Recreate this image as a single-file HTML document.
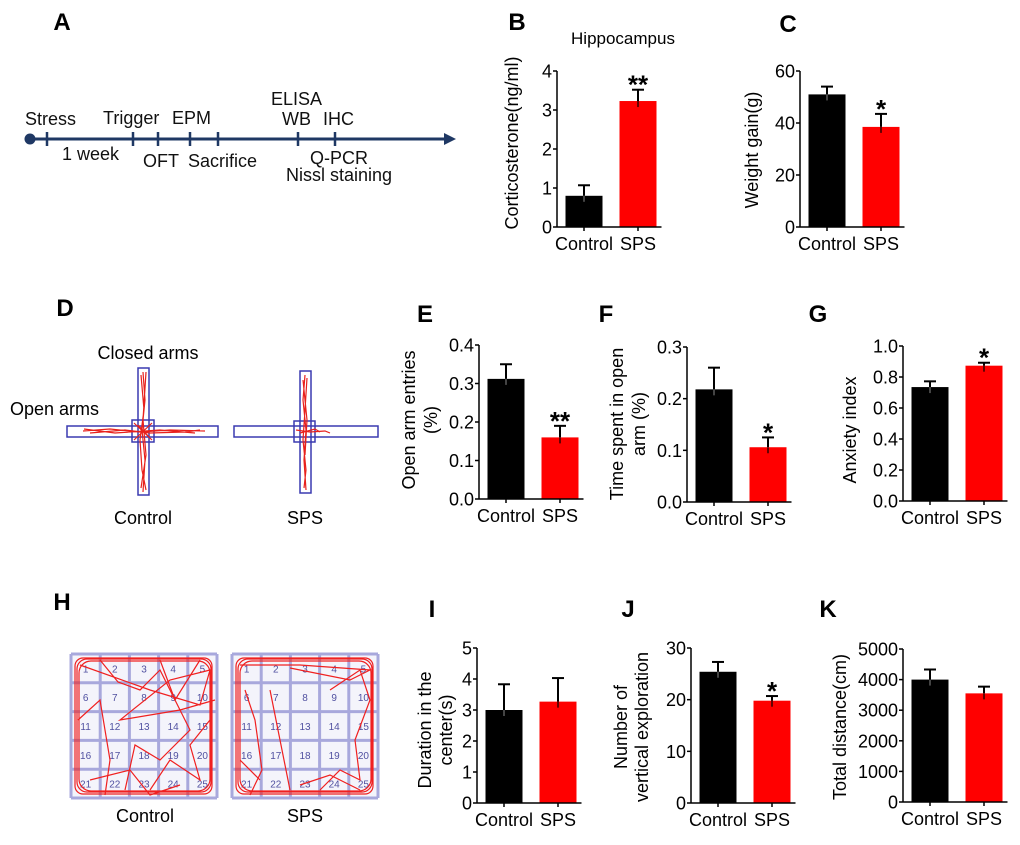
<!DOCTYPE html>
<html><head><meta charset="utf-8">
<style>
html,body{margin:0;padding:0;background:#fff;}
svg{display:block;font-family:"Liberation Sans",Arial,sans-serif;}
</style></head>
<body>
<svg id="fig" width="1020" height="845" viewBox="0 0 1020 845" xmlns="http://www.w3.org/2000/svg">
<!-- Panel letters -->
<g font-weight="bold" font-size="24" text-anchor="middle">
<text x="62" y="30">A</text>
<text x="517" y="30">B</text>
<text x="788" y="32">C</text>
<text x="65" y="316">D</text>
<text x="425" y="322">E</text>
<text x="606" y="322">F</text>
<text x="818" y="322">G</text>
<text x="62" y="610">H</text>
<text x="432" y="617">I</text>
<text x="628" y="617">J</text>
<text x="828" y="617">K</text>
</g>

<!-- Panel A timeline -->
<g fill="#111" font-size="18">
<line x1="30" y1="139" x2="446" y2="139" stroke="#1f3864" stroke-width="3"/>
<polygon points="444,133 456,139 444,145" fill="#1f3864"/>
<circle cx="30" cy="139" r="5.5" fill="#1f3864"/>
<g stroke="#1f3864" stroke-width="2.5">
<line x1="47" y1="132" x2="47" y2="146"/><line x1="133" y1="132" x2="133" y2="146"/>
<line x1="158" y1="132" x2="158" y2="146"/><line x1="190" y1="132" x2="190" y2="146"/>
<line x1="218" y1="132" x2="218" y2="146"/><line x1="298" y1="132" x2="298" y2="146"/>
<line x1="335" y1="132" x2="335" y2="146"/>
</g>
<text x="25" y="125">Stress</text>
<text x="103" y="124">Trigger</text>
<text x="172" y="124">EPM</text>
<text x="271" y="105">ELISA</text>
<text x="282" y="125">WB</text>
<text x="323" y="125">IHC</text>
<text x="62" y="160">1 week</text>
<text x="143" y="167">OFT</text>
<text x="188" y="167">Sacrifice</text>
<text x="310" y="164">Q-PCR</text>
<text x="286" y="181">Nissl staining</text>
</g>

<text x="623" y="44" font-size="17" text-anchor="middle">Hippocampus</text>

<!-- Panel D: EPM -->
<g>
<text x="148" y="359" font-size="18" text-anchor="middle">Closed arms</text>
<text x="10" y="415" font-size="18">Open arms</text>
<g fill="none" stroke="#3a3ab0" stroke-width="1.5">
<rect x="138" y="368" width="11" height="127"/><rect x="67" y="426" width="151" height="11"/><rect x="132" y="420" width="22" height="22"/>
</g>
<g fill="none" stroke="#e8201c" stroke-width="1.2">
<path d="M143,372 L145,400 L142,430 L145,460 L143,492 M141,375 L144,410 L140,440 L142,470 L146,490 M146,372 L143,420 L146,455 L141,488"/>
<path d="M83,431 L110,429 L140,432 L170,430 L205,431 M90,433 L125,430 L150,433 L185,432 L200,430 M84,429 L115,433 L160,430 L195,433"/>
<path d="M134,423 L152,440 M134,440 L152,423 M138,425 L150,438"/>
</g>
<g fill="none" stroke="#3a3ab0" stroke-width="1.5">
<rect x="300" y="371" width="11" height="122"/><rect x="234" y="426" width="144" height="11"/><rect x="294" y="421" width="21" height="21"/>
</g>
<g fill="none" stroke="#e8201c" stroke-width="1.2">
<path d="M305,375 L303,400 L306,430 L304,460 L306,490 M307,378 L305,410 L303,440 L306,470 L304,488 M303,380 L307,420 L305,455"/>
<path d="M296,430 L310,432 L325,431 L330,433 M300,433 L315,429 L320,432"/>
</g>
<text x="143" y="524" font-size="18" text-anchor="middle">Control</text>
<text x="305" y="524" font-size="18" text-anchor="middle">SPS</text>
</g>

<!-- Panel H: open field -->
<g id="of">
<text x="145" y="822" font-size="18" text-anchor="middle">Control</text>
<text x="305" y="822" font-size="18" text-anchor="middle">SPS</text>
</g>

<g id="charts"></g>

<script>
// ---------- Panel B: corticosterone ----------
const bCategories = ['Control', 'SPS'];
const bMeans = [0.8, 3.23];
const bErrTop = [1.07, 3.52];
const bTicks = [0, 1, 2, 3, 4];
const bTickLabels = ['0', '1', '2', '3', '4'];
const bStars = ['', '**'];
// ---------- Panel C: weight gain ----------
const cCategories = ['Control', 'SPS'];
const cMeans = [51, 38.5];
const cErrTop = [54, 43.5];
const cTicks = [0, 20, 40, 60];
const cTickLabels = ['0', '20', '40', '60'];
const cStars = ['', '*'];
// ---------- Panel E ----------
const eCategories = ['Control', 'SPS'];
const eMeans = [0.312, 0.16];
const eErrTop = [0.35, 0.19];
const eTicks = [0, 0.1, 0.2, 0.3, 0.4];
const eTickLabels = ['0.0', '0.1', '0.2', '0.3', '0.4'];
const eStars = ['', '**'];
// ---------- Panel F ----------
const fCategories = ['Control', 'SPS'];
const fMeans = [0.218, 0.106];
const fErrTop = [0.26, 0.125];
const fTicks = [0, 0.1, 0.2, 0.3];
const fTickLabels = ['0.0', '0.1', '0.2', '0.3'];
const fStars = ['', '*'];
// ---------- Panel G ----------
const gCategories = ['Control', 'SPS'];
const gMeans = [0.735, 0.873];
const gErrTop = [0.772, 0.892];
const gTicks = [0, 0.2, 0.4, 0.6, 0.8, 1.0];
const gTickLabels = ['0.0', '0.2', '0.4', '0.6', '0.8', '1.0'];
const gStars = ['', '*'];
// ---------- Panel I ----------
const iCategories = ['Control', 'SPS'];
const iMeans = [3.0, 3.27];
const iErrTop = [3.83, 4.03];
const iTicks = [0, 1, 2, 3, 4, 5];
const iTickLabels = ['0', '1', '2', '3', '4', '5'];
const iStars = ['', ''];
// ---------- Panel J ----------
const jCategories = ['Control', 'SPS'];
const jMeans = [25.4, 19.8];
const jErrTop = [27.3, 20.7];
const jTicks = [0, 10, 20, 30];
const jTickLabels = ['0', '10', '20', '30'];
const jStars = ['', '*'];
// ---------- Panel K ----------
const kCategories = ['Control', 'SPS'];
const kMeans = [4000, 3550];
const kErrTop = [4330, 3770];
const kTicks = [0, 1000, 2000, 3000, 4000, 5000];
const kTickLabels = ['0', '1000', '2000', '3000', '4000', '5000'];
const kStars = ['', ''];

const NS = 'http://www.w3.org/2000/svg';
const root = document.getElementById('charts');
const barColors = ['#000000', '#ff0000'];

function mk(tag, attrs, parent) {
  const el = document.createElementNS(NS, tag);
  for (const k in attrs) el.setAttribute(k, attrs[k]);
  parent.appendChild(el);
  return el;
}

function drawChart(id, layout, cats, means, errs, ticks, tickLabels, stars, titles) {
  const g = mk('g', {}, root);
  
  
  const yMax = ticks[ticks.length - 1];
  const yScale = v => layout.y0 - (v / yMax) * (layout.y0 - layout.yTop);
  const xCenter = i => layout.ax + 27 + i * 54;
  const bw = 37;
  // bars
  cats.forEach((c, i) => {
    const cx = xCenter(i);
    const yt = yScale(errs[i]);
    const eb = mk('g', {stroke: '#000', 'stroke-width': 2}, g);
    
    
    mk('line', {x1: cx, y1: yScale(means[i]), x2: cx, y2: yt}, eb);
    mk('line', {x1: cx - 6, y1: yt, x2: cx + 6, y2: yt}, eb);
    const r = mk('rect', {x: cx - bw / 2, y: yScale(means[i]), width: bw, height: layout.y0 - yScale(means[i]), fill: barColors[i]}, g);
    
    
    if (i === 0) mk('line', {x1: cx, y1: yScale(means[i]), x2: cx, y2: yScale(means[i]) + 6, stroke: '#444', 'stroke-width': 2}, g);
    else mk('line', {x1: cx, y1: yScale(means[i]), x2: cx, y2: yScale(means[i]) + 6, stroke: '#600', 'stroke-width': 2}, g);
    const lab = mk('text', {x: cx, y: layout.y0 + 23, 'font-size': 18, 'text-anchor': 'middle'}, g);
    lab.textContent = c;
    
    
    mk('line', {x1: cx, y1: layout.y0, x2: cx, y2: layout.y0 + 4, stroke: '#000', 'stroke-width': 1.5}, g);
    if (stars[i]) {
      const s = mk('text', {x: cx, y: yt + 4, 'font-size': 26, 'font-weight': 'bold', 'text-anchor': 'middle'}, g);
      s.textContent = stars[i];
      
      
    }
  });
  // axes
  const axis = mk('g', {stroke: '#000', 'stroke-width': 1.5}, g);
  
  
  mk('line', {x1: layout.ax, y1: layout.yTop, x2: layout.ax, y2: layout.y0}, axis);
  mk('line', {x1: layout.ax, y1: layout.y0, x2: xCenter(cats.length - 1) + bw / 2 + 5, y2: layout.y0}, axis);
  ticks.forEach((t, i) => {
    const y = yScale(t);
    mk('line', {x1: layout.ax - 4, y1: y, x2: layout.ax, y2: y}, axis);
    const tl = mk('text', {x: layout.ax - 5, y: y + 6.5, 'font-size': 18, 'text-anchor': 'end'}, g);
    tl.textContent = tickLabels[i];
    
    
  });
  titles.forEach((t, i) => {
    const tx = layout.tx[i];
    const tt = mk('text', {x: tx, y: layout.ty, 'font-size': 18, 'text-anchor': 'middle', transform: 'rotate(-90 ' + tx + ' ' + layout.ty + ')', 'dominant-baseline': 'central'}, g);
    tt.textContent = t;
    
    
  });
}

drawChart('corticosterone', {ax: 557, y0: 227, yTop: 71, tx: [512], ty: 143}, bCategories, bMeans, bErrTop, bTicks, bTickLabels, bStars, ['Corticosterone(ng/ml)']);
drawChart('weight-gain', {ax: 800, y0: 227, yTop: 71, tx: [752], ty: 150}, cCategories, cMeans, cErrTop, cTicks, cTickLabels, cStars, ['Weight gain(g)']);
drawChart('open-arm-entries', {ax: 479, y0: 499, yTop: 345, tx: [409, 431], ty: 420}, eCategories, eMeans, eErrTop, eTicks, eTickLabels, eStars, ['Open arm entries', '(%)']);
drawChart('open-arm-time', {ax: 687, y0: 502, yTop: 347, tx: [617, 639], ty: 424}, fCategories, fMeans, fErrTop, fTicks, fTickLabels, fStars, ['Time spent in open', 'arm (%)']);
drawChart('anxiety-index', {ax: 903, y0: 501, yTop: 346, tx: [850], ty: 430}, gCategories, gMeans, gErrTop, gTicks, gTickLabels, gStars, ['Anxiety index']);
drawChart('center-duration', {ax: 477, y0: 803, yTop: 648, tx: [425, 446], ty: 730}, iCategories, iMeans, iErrTop, iTicks, iTickLabels, iStars, ['Duration in the', 'center(s)']);
drawChart('vertical-exploration', {ax: 691, y0: 803, yTop: 648, tx: [621, 642], ty: 727}, jCategories, jMeans, jErrTop, jTicks, jTickLabels, jStars, ['Number of', 'vertical exploration']);
drawChart('total-distance', {ax: 903, y0: 802, yTop: 649, tx: [840], ty: 727}, kCategories, kMeans, kErrTop, kTicks, kTickLabels, kStars, ['Total distance(cm)']);

// ---------- Panel H: open field grids (illustration) ----------
const of = document.getElementById('of');
function grid(id, x0, y0, tracks) {
  const g = mk('g', {}, of);
  
  
  const w = 146, h = 144, cw = w / 5, ch = h / 5;
  mk('rect', {x: x0, y: y0, width: w, height: h, fill: '#f4f4fb'}, g);
  const gl = mk('g', {stroke: '#a8a8dc', 'stroke-width': 3}, g);
  for (let i = 0; i <= 5; i++) {
    mk('line', {x1: x0 + i * cw, y1: y0, x2: x0 + i * cw, y2: y0 + h}, gl);
    mk('line', {x1: x0, y1: y0 + i * ch, x2: x0 + w, y2: y0 + i * ch}, gl);
  }
  const nums = mk('g', {'font-size': 10, fill: '#5050a0', 'text-anchor': 'middle'}, g);
  for (let r = 0; r < 5; r++) for (let c = 0; c < 5; c++) {
    const t = mk('text', {x: x0 + c * cw + cw / 2, y: y0 + r * ch + ch / 2 + 4}, nums);
    t.textContent = String(r * 5 + c + 1);
  }
  const tr = mk('g', {fill: 'none', stroke: '#f02020', 'stroke-width': 1.2}, g);
  mk('rect', {x: x0 + 6, y: y0 + 5, width: w - 12, height: h - 11, rx: 10}, tr);
  mk('rect', {x: x0 + 8, y: y0 + 7, width: w - 15, height: h - 14, rx: 12}, tr);
  mk('rect', {x: x0 + 4, y: y0 + 4, width: w - 9, height: h - 8, rx: 8}, tr);
  tracks.forEach(d => mk('path', {d: d}, tr));
}
grid('open-field-control', 71, 654, [
  'M80,665 L150,690 L200,705 L210,670 L170,680 L120,720 L180,710 L215,700',
  'M100,660 L118,682 L140,690 L160,670 L190,730 L160,760 L135,745 L125,790',
  'M78,720 L100,700 L110,760 L105,795 M150,790 L170,760 L200,780 L190,745 L210,720',
  'M90,780 L130,770 L150,795 L180,785 M160,660 L175,700 L200,660'
]);
grid('open-field-sps', 232, 654, [
  'M240,665 L300,665 L370,670 L350,680 L290,668',
  'M245,690 L255,720 L262,770 L250,795 M270,690 L280,740 L290,790',
  'M330,690 L360,670 L370,700 L355,740 L360,780 L340,770 L320,790',
  'M300,785 L330,775 L360,790 M240,760 L260,780'
]);
</script>
</svg>
</body></html>
